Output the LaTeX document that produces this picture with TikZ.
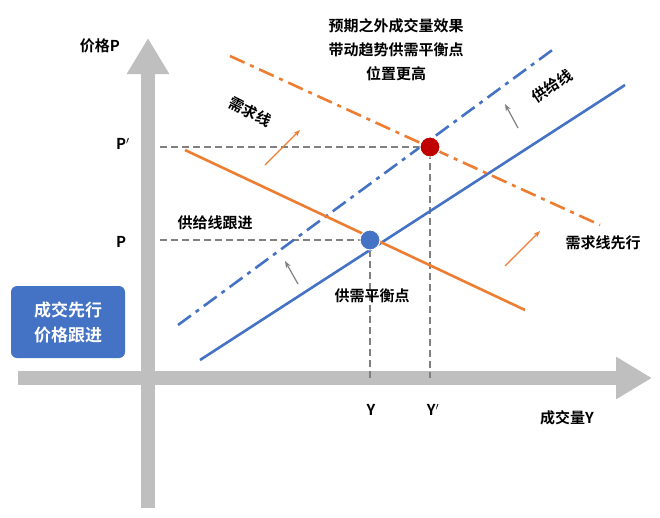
\documentclass[tikz,border=0pt]{standalone}
\usepackage{fontspec}
\setmainfont{Noto Sans CJK SC}[BoldFont={Noto Sans CJK SC Bold}]
\usetikzlibrary{arrows.meta,positioning}
\definecolor{sblue}{HTML}{4472C4}
\definecolor{dorange}{HTML}{ED7D31}
\definecolor{pred}{HTML}{C00000}
\definecolor{axgray}{HTML}{BFBFBF}
\begin{document}
\begin{tikzpicture}[x=1pt,y=-1pt,
        axis/.style={line width=14pt,draw=axgray,-{Triangle[length=36pt,width=40pt]}},
        guide/.style={gray,line width=2.2pt,dash pattern=on 7pt off 4pt},
        dd/.style={line width=2.6pt,dash pattern=on 16pt off 6pt on 4pt off 6pt},
        move/.style={line width=1.2pt,-{Stealth[length=7pt]}},
        lbl/.style={font=\bfseries\fontsize{15}{18}\selectfont},
        dot/.style={circle,draw=white,line width=1pt,minimum size=20pt,inner sep=0pt}
    ]
        \useasboundingbox (0,0) rectangle (660,517);
        % axes
        \coordinate (yb) at (148,508);
        \coordinate (yt) at (148,38);
        \coordinate (xl) at (18,378);
        \coordinate (xr) at (652,378);
        \draw[axis] (yb) -- (yt);
        \draw[axis] (xl) -- (xr);
        \node[lbl] (ylab) at (100,46) {价格P};
        \node[lbl] (xlab) at (567,418) {成交量Y};
        % equilibrium points
        \node[dot,fill=sblue] (eq) at (370,240) {};
        \node[dot,fill=pred] (eqn) at (430,147) {};
        \node[lbl] (p) at (121,242) {P};
        \node[lbl] (pn) at (123,144) {P$'$};
        \node[lbl] (y) at (371,410) {Y};
        \node[lbl] (yn) at (433,410) {Y$'$};
        \coordinate (pl) at (160,240);
        \coordinate (pnl) at (160,147);
        \coordinate (yx) at (370,378);
        \coordinate (ynx) at (430,378);
        \draw[guide] (pl) -- (eq.center) -- (yx);
        \draw[guide] (pnl) -- (eqn.center) -- (ynx);
        % supply and demand
        \coordinate (s1) at (200,360); \coordinate (s2) at (625,85);
        \coordinate (sn1) at (178,325); \coordinate (sn2) at (555,48);
        \coordinate (d1) at (185,150); \coordinate (d2) at (525,310);
        \coordinate (dn1) at (230,56); \coordinate (dn2) at (600,225);
        \draw[sblue,line width=2.6pt] (s1) -- (s2);
        \draw[sblue,dd] (sn1) -- (sn2);
        \draw[dorange,line width=2.6pt] (d1) -- (d2);
        \draw[dorange,dd] (dn1) -- (dn2);
        \node[dot,fill=sblue] at (eq) {};
        \node[dot,fill=pred] at (eqn) {};
        % shift arrows
        \coordinate (a1) at (265,165); \coordinate (a2) at (300,130);
        \coordinate (b1) at (505,266); \coordinate (b2) at (540,231);
        \coordinate (c1) at (298,284); \coordinate (c2) at (285,261);
        \coordinate (e1) at (518,128); \coordinate (e2) at (505,104);
        \draw[move,dorange] (a1) -- (a2);
        \draw[move,dorange] (b1) -- (b2);
        \draw[move,gray] (c1) -- (c2);
        \draw[move,gray] (e1) -- (e2);
        % labels
        \node[lbl,rotate=-27] (dlab) at (250,112) {需求线};
        \node[lbl,rotate=33] (slab) at (552,86) {供给线};
        \node[lbl] (sfol) at (215,223) {供给线跟进};
        \node[lbl] (eqlab) at (372,296) {供需平衡点};
        \node[lbl] (dlead) at (603,243) {需求线先行};
        \node[lbl,align=center,font=\bfseries\fontsize{15}{24}\selectfont] (note) at (396,50) {预期之外成交量效果\\带动趋势供需平衡点\\位置更高};
        \node[lbl,align=center,fill=sblue,text=white,rounded corners=6pt,minimum width=114pt,minimum height=72pt,font=\bfseries\fontsize{17}{25}\selectfont] (box) at (68,322) {成交先行\\价格跟进};
    \end{tikzpicture}
\end{document}
